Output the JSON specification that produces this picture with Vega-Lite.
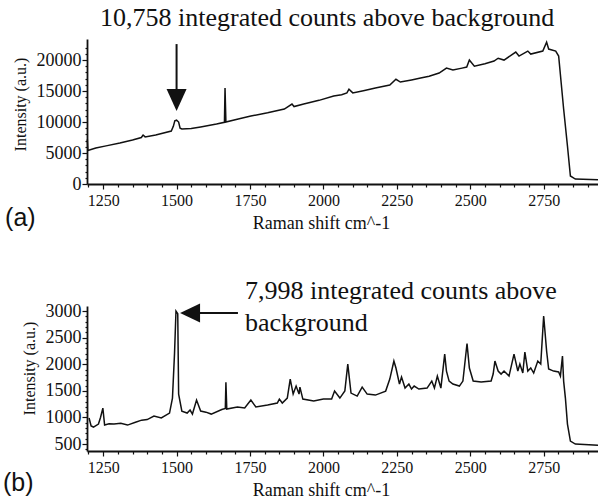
{
  "$schema": "https://vega.github.io/schema/vega-lite/v6.json",
  "padding": {"left": 3, "top": 4, "right": 0, "bottom": 3},
  "bounds": "flush",
  "spacing": 122,
  "config": {
    "view": {"stroke": null},
    "title": {"font": "Liberation Serif", "fontSize": 26, "fontWeight": "normal", "color": "#111"},
    "axis": {
      "grid": false,
      "domainColor": "#111",
      "domainWidth": 1.8,
      "tickColor": "#111",
      "tickWidth": 1.2,
      "labelColor": "#111",
      "titleColor": "#111",
      "labelFont": "Liberation Serif",
      "titleFont": "Liberation Serif",
      "titleFontWeight": "normal",
      "labelOverlap": false
    }
  },
  "datasets": {
    "specA": [
      {"shift": 1196, "intensity": 7200},
      {"shift": 1198, "intensity": 5400},
      {"shift": 1225, "intensity": 5800},
      {"shift": 1260, "intensity": 6150},
      {"shift": 1307, "intensity": 6600},
      {"shift": 1350, "intensity": 7100},
      {"shift": 1380, "intensity": 7500},
      {"shift": 1386, "intensity": 7900},
      {"shift": 1393, "intensity": 7600},
      {"shift": 1429, "intensity": 7900},
      {"shift": 1482, "intensity": 8550},
      {"shift": 1489, "intensity": 9300},
      {"shift": 1494, "intensity": 10200},
      {"shift": 1500, "intensity": 10300},
      {"shift": 1507, "intensity": 10000},
      {"shift": 1512, "intensity": 9000},
      {"shift": 1518, "intensity": 8870},
      {"shift": 1550, "intensity": 8950},
      {"shift": 1582, "intensity": 9200},
      {"shift": 1636, "intensity": 9680},
      {"shift": 1663, "intensity": 9950},
      {"shift": 1665, "intensity": 15480},
      {"shift": 1668, "intensity": 10000},
      {"shift": 1710, "intensity": 10500},
      {"shift": 1753, "intensity": 10970},
      {"shift": 1810, "intensity": 11500},
      {"shift": 1867, "intensity": 12100},
      {"shift": 1893, "intensity": 12900},
      {"shift": 1900, "intensity": 12500},
      {"shift": 1933, "intensity": 12900},
      {"shift": 1985, "intensity": 13500},
      {"shift": 2035, "intensity": 14200},
      {"shift": 2062, "intensity": 14400},
      {"shift": 2080, "intensity": 14700},
      {"shift": 2087, "intensity": 15300},
      {"shift": 2100, "intensity": 14700},
      {"shift": 2140, "intensity": 15100},
      {"shift": 2177, "intensity": 15500},
      {"shift": 2226, "intensity": 15970},
      {"shift": 2247, "intensity": 16900},
      {"shift": 2262, "intensity": 16450},
      {"shift": 2300, "intensity": 16800},
      {"shift": 2331, "intensity": 17100},
      {"shift": 2360, "intensity": 17400},
      {"shift": 2394, "intensity": 17900},
      {"shift": 2419, "intensity": 18700},
      {"shift": 2441, "intensity": 18400},
      {"shift": 2472, "intensity": 18700},
      {"shift": 2488, "intensity": 18870},
      {"shift": 2497, "intensity": 20000},
      {"shift": 2514, "intensity": 19000},
      {"shift": 2550, "intensity": 19400},
      {"shift": 2581, "intensity": 19840},
      {"shift": 2595, "intensity": 20300},
      {"shift": 2615, "intensity": 20000},
      {"shift": 2655, "intensity": 21300},
      {"shift": 2666, "intensity": 20650},
      {"shift": 2696, "intensity": 21450},
      {"shift": 2706, "intensity": 20970},
      {"shift": 2747, "intensity": 21450},
      {"shift": 2760, "intensity": 22900},
      {"shift": 2767, "intensity": 21780},
      {"shift": 2791, "intensity": 21450},
      {"shift": 2801, "intensity": 20650},
      {"shift": 2818, "intensity": 12100},
      {"shift": 2831, "intensity": 6130},
      {"shift": 2841, "intensity": 1290},
      {"shift": 2858, "intensity": 800},
      {"shift": 2935, "intensity": 700}
    ],
    "specB": [
      {"shift": 1202, "intensity": 990},
      {"shift": 1209, "intensity": 840},
      {"shift": 1217, "intensity": 820},
      {"shift": 1234, "intensity": 876},
      {"shift": 1241, "intensity": 1000},
      {"shift": 1249, "intensity": 1177},
      {"shift": 1255, "intensity": 857},
      {"shift": 1270, "intensity": 880},
      {"shift": 1287, "intensity": 876},
      {"shift": 1310, "intensity": 890},
      {"shift": 1333, "intensity": 857},
      {"shift": 1360, "intensity": 910},
      {"shift": 1381, "intensity": 950},
      {"shift": 1400, "intensity": 960},
      {"shift": 1423, "intensity": 1026},
      {"shift": 1448, "intensity": 990},
      {"shift": 1476, "intensity": 1083},
      {"shift": 1486, "intensity": 1365},
      {"shift": 1493, "intensity": 2200},
      {"shift": 1498, "intensity": 3000},
      {"shift": 1504, "intensity": 2950},
      {"shift": 1507, "intensity": 1440},
      {"shift": 1518, "intensity": 1120},
      {"shift": 1536, "intensity": 1083},
      {"shift": 1546, "intensity": 1140},
      {"shift": 1554, "intensity": 1064},
      {"shift": 1568, "intensity": 1327},
      {"shift": 1582, "intensity": 1120},
      {"shift": 1600, "intensity": 1100},
      {"shift": 1618, "intensity": 1064},
      {"shift": 1654, "intensity": 1150},
      {"shift": 1666, "intensity": 1170},
      {"shift": 1668, "intensity": 1660},
      {"shift": 1671, "intensity": 1158},
      {"shift": 1707, "intensity": 1196},
      {"shift": 1732, "intensity": 1177},
      {"shift": 1753, "intensity": 1327},
      {"shift": 1770, "intensity": 1196},
      {"shift": 1810, "intensity": 1233},
      {"shift": 1843, "intensity": 1271},
      {"shift": 1850, "intensity": 1346},
      {"shift": 1860, "intensity": 1271},
      {"shift": 1877, "intensity": 1365},
      {"shift": 1887, "intensity": 1722},
      {"shift": 1897, "intensity": 1440},
      {"shift": 1907, "intensity": 1590},
      {"shift": 1917, "intensity": 1440},
      {"shift": 1920, "intensity": 1571},
      {"shift": 1930, "intensity": 1346},
      {"shift": 1967, "intensity": 1308},
      {"shift": 2000, "intensity": 1346},
      {"shift": 2028, "intensity": 1346},
      {"shift": 2038, "intensity": 1496},
      {"shift": 2056, "intensity": 1365},
      {"shift": 2073, "intensity": 1500},
      {"shift": 2083, "intensity": 2004},
      {"shift": 2094, "intensity": 1459},
      {"shift": 2115, "intensity": 1402},
      {"shift": 2132, "intensity": 1571},
      {"shift": 2149, "intensity": 1440},
      {"shift": 2177, "intensity": 1421},
      {"shift": 2212, "intensity": 1496},
      {"shift": 2226, "intensity": 1722},
      {"shift": 2240, "intensity": 2060},
      {"shift": 2247, "intensity": 1930},
      {"shift": 2259, "intensity": 1628},
      {"shift": 2266, "intensity": 1760},
      {"shift": 2278, "intensity": 1553},
      {"shift": 2291, "intensity": 1628},
      {"shift": 2300, "intensity": 1534},
      {"shift": 2309, "intensity": 1590},
      {"shift": 2325, "intensity": 1534},
      {"shift": 2353, "intensity": 1553},
      {"shift": 2369, "intensity": 1684},
      {"shift": 2378, "intensity": 1553},
      {"shift": 2388, "intensity": 1778},
      {"shift": 2400, "intensity": 1553},
      {"shift": 2413, "intensity": 2192},
      {"shift": 2419, "intensity": 1872},
      {"shift": 2428, "intensity": 1684},
      {"shift": 2441, "intensity": 1628},
      {"shift": 2463, "intensity": 1590},
      {"shift": 2475, "intensity": 1684},
      {"shift": 2489, "intensity": 2390},
      {"shift": 2497, "intensity": 1930},
      {"shift": 2510, "intensity": 1684},
      {"shift": 2537, "intensity": 1666},
      {"shift": 2571, "intensity": 1684},
      {"shift": 2578, "intensity": 1816},
      {"shift": 2584, "intensity": 2060},
      {"shift": 2595, "intensity": 1872},
      {"shift": 2605, "intensity": 1816},
      {"shift": 2615, "intensity": 1872},
      {"shift": 2632, "intensity": 1778},
      {"shift": 2649, "intensity": 2192},
      {"shift": 2662, "intensity": 1872},
      {"shift": 2669, "intensity": 2004},
      {"shift": 2679, "intensity": 1835},
      {"shift": 2686, "intensity": 2230},
      {"shift": 2696, "intensity": 1872},
      {"shift": 2706, "intensity": 1930},
      {"shift": 2716, "intensity": 1835},
      {"shift": 2730, "intensity": 2060},
      {"shift": 2740, "intensity": 2004},
      {"shift": 2750, "intensity": 2906},
      {"shift": 2760, "intensity": 2249},
      {"shift": 2767, "intensity": 1910},
      {"shift": 2784, "intensity": 1872},
      {"shift": 2801, "intensity": 1854},
      {"shift": 2807, "intensity": 1778},
      {"shift": 2814, "intensity": 2154},
      {"shift": 2818, "intensity": 1684},
      {"shift": 2824, "intensity": 1365},
      {"shift": 2831, "intensity": 876},
      {"shift": 2841, "intensity": 556},
      {"shift": 2858, "intensity": 500},
      {"shift": 2935, "intensity": 480}
    ],
    "arrowA": [{"shift": 1500, "top": 22580, "bottom": 14000, "head": 13550}],
    "labelA": [{"shift": 916, "intensity": -6780, "label": "(a)"}],
    "arrowB": [{"from": 1709, "to": 1540, "head": 1546, "intensity": 2963}],
    "noteB": [{"shift": 1733, "intensity": 3226, "label": "7,998 integrated counts above\nbackground"}],
    "labelB": [{"shift": 909, "intensity": -382, "label": "(b)"}]
  },
  "vconcat": [
    {
      "width": 511,
      "height": 145,
      "title": {"text": "10,758 integrated counts above background", "anchor": "start", "frame": "group", "dx": 13, "offset": 8},
      "layer": [
        {
          "data": {"name": "specA"},
          "mark": {"type": "line", "color": "#111", "strokeWidth": 1.5},
          "encoding": {
            "x": {"field": "shift", "type": "quantitative", "scale": {"domain": [1195, 2935], "nice": false, "zero": false},
              "axis": {"values": [1200, 1250, 1300, 1350, 1400, 1450, 1500, 1550, 1600, 1650, 1700, 1750, 1800, 1850, 1900, 1950, 2000, 2050, 2100, 2150, 2200, 2250, 2300, 2350, 2400, 2450, 2500, 2550, 2600, 2650, 2700, 2750, 2800, 2850, 2900],
                "tickCount": 500,
                "labelExpr": "datum.value % 250 === 0 ? format(datum.value, 'd') : ''",
                "labelOverlap": false, "labelBound": false, "labelFlush": false,
                "tickSize": {"condition": {"test": "datum.value % 250 === 0", "value": 5}, "value": 3},
                "labelFont": "Liberation Serif", "labelFontSize": 16, "labelPadding": 3,
                "title": "Raman shift cm^-1", "titleFont": "Liberation Serif", "titleFontSize": 18, "titlePadding": 6, "titleX": 234}},
            "y": {"field": "intensity", "type": "quantitative", "scale": {"domain": [0, 23400], "nice": false, "zero": false},
              "axis": {"values": [0, 1000, 2000, 3000, 4000, 5000, 6000, 7000, 8000, 9000, 10000, 11000, 12000, 13000, 14000, 15000, 16000, 17000, 18000, 19000, 20000, 21000, 22000],
                "tickCount": 500,
                "labelExpr": "datum.value % 5000 === 0 ? format(datum.value, 'd') : ''",
                "labelOverlap": false, "labelBound": false, "labelFlush": false,
                "tickSize": {"condition": {"test": "datum.value % 5000 === 0", "value": 5}, "value": 2},
                "labelFont": "Liberation Serif", "labelFontSize": 18, "labelPadding": 1,
                "title": "Intensity (a.u.)", "titleFont": "Liberation Serif", "titleFontSize": 16, "titlePadding": 8, "titleY": 65}}
          }
        },
        {
          "data": {"name": "arrowA"},
          "mark": {"type": "rule", "color": "#111", "strokeWidth": 2},
          "encoding": {
            "x": {"field": "shift", "type": "quantitative", "scale": {"domain": [1195, 2935], "nice": false, "zero": false}},
            "y": {"field": "top", "type": "quantitative", "scale": {"domain": [0, 23400], "nice": false, "zero": false}},
            "y2": {"field": "bottom"}
          }
        },
        {
          "data": {"name": "arrowA"},
          "mark": {"type": "point", "shape": "M-1,-1.1L1,-1.1L0,1.1Z", "filled": true, "color": "#111", "opacity": 1, "size": 400},
          "encoding": {
            "x": {"field": "shift", "type": "quantitative", "scale": {"domain": [1195, 2935], "nice": false, "zero": false}},
            "y": {"field": "head", "type": "quantitative", "scale": {"domain": [0, 23400], "nice": false, "zero": false}}
          }
        },
        {
          "data": {"name": "labelA"},
          "mark": {"type": "text", "font": "Liberation Sans", "fontSize": 25, "align": "left", "baseline": "alphabetic", "color": "#111"},
          "encoding": {
            "x": {"field": "shift", "type": "quantitative", "scale": {"domain": [1195, 2935], "nice": false, "zero": false}},
            "y": {"field": "intensity", "type": "quantitative", "scale": {"domain": [0, 23400], "nice": false, "zero": false}},
            "text": {"field": "label"}
          }
        }
      ]
    },
    {
      "width": 511,
      "height": 145,
      "layer": [
        {
          "data": {"name": "specB"},
          "mark": {"type": "line", "color": "#111", "strokeWidth": 1.5},
          "encoding": {
            "x": {"field": "shift", "type": "quantitative", "scale": {"domain": [1195, 2935], "nice": false, "zero": false},
              "axis": {"values": [1200, 1250, 1300, 1350, 1400, 1450, 1500, 1550, 1600, 1650, 1700, 1750, 1800, 1850, 1900, 1950, 2000, 2050, 2100, 2150, 2200, 2250, 2300, 2350, 2400, 2450, 2500, 2550, 2600, 2650, 2700, 2750, 2800, 2850, 2900],
                "tickCount": 500,
                "labelExpr": "datum.value % 250 === 0 ? format(datum.value, 'd') : ''",
                "labelOverlap": false, "labelBound": false, "labelFlush": false,
                "tickSize": {"condition": {"test": "datum.value % 250 === 0", "value": 5}, "value": 3},
                "labelFont": "Liberation Serif", "labelFontSize": 16, "labelPadding": 3,
                "title": "Raman shift cm^-1", "titleFont": "Liberation Serif", "titleFontSize": 18, "titlePadding": 6, "titleX": 234}},
            "y": {"field": "intensity", "type": "quantitative", "scale": {"domain": [370, 3095], "nice": false, "zero": false},
              "axis": {"values": [400, 500, 600, 700, 800, 900, 1000, 1100, 1200, 1300, 1400, 1500, 1600, 1700, 1800, 1900, 2000, 2100, 2200, 2300, 2400, 2500, 2600, 2700, 2800, 2900, 3000],
                "tickCount": 500,
                "labelExpr": "datum.value % 500 === 0 ? format(datum.value, 'd') : ''",
                "labelOverlap": false, "labelBound": false, "labelFlush": false,
                "tickSize": {"condition": {"test": "datum.value % 500 === 0", "value": 5}, "value": 2},
                "labelFont": "Liberation Serif", "labelFontSize": 18, "labelPadding": 1,
                "title": "Intensity (a.u.)", "titleFont": "Liberation Serif", "titleFontSize": 16, "titlePadding": 8, "titleY": 62}}
          }
        },
        {
          "data": {"name": "arrowB"},
          "mark": {"type": "rule", "color": "#111", "strokeWidth": 2},
          "encoding": {
            "x": {"field": "from", "type": "quantitative", "scale": {"domain": [1195, 2935], "nice": false, "zero": false}},
            "x2": {"field": "to"},
            "y": {"field": "intensity", "type": "quantitative", "scale": {"domain": [370, 3095], "nice": false, "zero": false}}
          }
        },
        {
          "data": {"name": "arrowB"},
          "mark": {"type": "point", "shape": "M-1,0L1,-0.95L1,0.95Z", "filled": true, "color": "#111", "opacity": 1, "size": 400},
          "encoding": {
            "x": {"field": "head", "type": "quantitative", "scale": {"domain": [1195, 2935], "nice": false, "zero": false}},
            "y": {"field": "intensity", "type": "quantitative", "scale": {"domain": [370, 3095], "nice": false, "zero": false}}
          }
        },
        {
          "data": {"name": "noteB"},
          "mark": {"type": "text", "font": "Liberation Serif", "fontSize": 26, "align": "left", "baseline": "alphabetic", "lineBreak": "\n", "lineHeight": 32, "color": "#111"},
          "encoding": {
            "x": {"field": "shift", "type": "quantitative", "scale": {"domain": [1195, 2935], "nice": false, "zero": false}},
            "y": {"field": "intensity", "type": "quantitative", "scale": {"domain": [370, 3095], "nice": false, "zero": false}},
            "text": {"field": "label"}
          }
        },
        {
          "data": {"name": "labelB"},
          "mark": {"type": "text", "font": "Liberation Sans", "fontSize": 25, "align": "left", "baseline": "alphabetic", "color": "#111"},
          "encoding": {
            "x": {"field": "shift", "type": "quantitative", "scale": {"domain": [1195, 2935], "nice": false, "zero": false}},
            "y": {"field": "intensity", "type": "quantitative", "scale": {"domain": [370, 3095], "nice": false, "zero": false}},
            "text": {"field": "label"}
          }
        }
      ]
    }
  ]
}
